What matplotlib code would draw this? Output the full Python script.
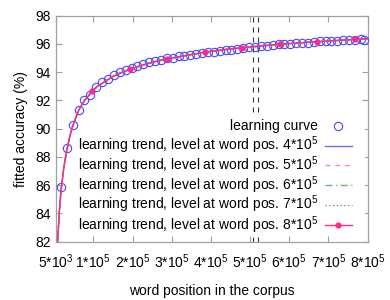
import matplotlib
matplotlib.use("Agg")
import matplotlib.pyplot as plt
from matplotlib.patches import Rectangle
from matplotlib.lines import Line2D

plt.rcParams['font.family'] = ['Liberation Sans', 'DejaVu Sans']
plt.rcParams['mathtext.fontset'] = 'custom'
plt.rcParams['mathtext.rm'] = 'Liberation Sans'
plt.rcParams['mathtext.it'] = 'Liberation Sans'

# ---------------- data ----------------
learning_x = [17500 + 15000 * i for i in range(52)] + [790000]
learning_y = [85.85, 88.65, 90.28, 91.32, 92.03, 92.36, 92.93, 93.28, 93.52, 93.80,
              93.99, 94.13, 94.32, 94.44, 94.58, 94.70, 94.81, 94.84, 94.97, 95.02,
              95.12, 95.13, 95.20, 95.27, 95.36, 95.44, 95.45, 95.50, 95.58, 95.60,
              95.66, 95.72, 95.76, 95.80, 95.85, 95.86, 95.92, 95.97, 95.98, 96.02,
              96.04, 96.07, 96.10, 96.12, 96.18, 96.19, 96.21, 96.24, 96.26, 96.27,
              96.30, 96.32, 96.30]

trend_x = [5000, 9000, 13000, 17500, 25000, 32500, 40000, 47500, 62500, 77500,
           97000, 110000, 125000, 150000, 170000, 193000, 220000, 250000, 289000,
           320000, 350000, 385000, 450000, 480000, 575000, 671000, 767000, 800000]
trend_y = [79.0, 82.0, 84.0, 85.6, 87.3, 88.5, 89.45, 90.2, 91.3, 92.0,
           92.65, 93.0, 93.25, 93.7, 93.95, 94.2, 94.45, 94.7, 94.95,
           95.1, 95.25, 95.42, 95.65, 95.73, 95.98, 96.16, 96.32, 96.37]
trend_marker_x = [97000, 193000, 289000, 385000, 480000, 575000, 671000, 767000]

trend_levels = ['4', '5', '6', '7', '8']
vline_x = [506500, 520800]

x_ticks = [5000, 100000, 200000, 300000, 400000, 500000, 600000, 700000, 800000]
x_ticklabels = ['5*10$^{3}$', '1*10$^{5}$', '2*10$^{5}$', '3*10$^{5}$', '4*10$^{5}$',
                '5*10$^{5}$', '6*10$^{5}$', '7*10$^{5}$', '8*10$^{5}$']
y_ticks = [82, 84, 86, 88, 90, 92, 94, 96, 98]

# ---------------- styles ----------------
trend_styles = [
    dict(color='#6a6af0', ls='-', lw=1.0),
    dict(color='#ff8a8a', ls=(0, (3.5, 3.5)), lw=1.0),
    dict(color='#66bb66', ls=(0, (5, 2.5, 1, 2.5)), lw=1.0),
    dict(color='#707070', ls=(0, (1, 2)), lw=0.9),
    dict(color='#ff2a8a', ls='-', lw=1.0),
]

fig = plt.figure(figsize=(3.9, 3.0), dpi=100)
ax = fig.add_axes([0.1438, 0.1943, 0.7990, 0.7534])

gray = '#a0a0a0'
fs = 10

for vx in vline_x:
    ax.axvline(vx, color='#333333', lw=0.8, ls=(0, (4.5, 4.5)), zorder=1)

ax.plot(learning_x, learning_y, ls='none', marker='o', ms=6.0, mfc='none',
        mec='#4848ff', mew=0.8, zorder=3)

marker_idx = [trend_x.index(v) for v in trend_marker_x]
for i, st in enumerate(trend_styles):
    if i == len(trend_styles) - 1:
        ax.plot(trend_x, trend_y, marker='o', ms=3.5, markevery=marker_idx,
                mfc=st['color'], mec=st['color'], zorder=4 + i, **st)
    else:
        ax.plot(trend_x, trend_y, zorder=4 + i, **st)

ax.set_xlim(5000, 800000)
ax.set_ylim(82, 98)
ax.set_xticks(x_ticks)
ax.set_xticklabels(x_ticklabels)
ax.set_yticks(y_ticks)
ax.tick_params(direction='in', length=4.5, width=0.8, color=gray,
               top=True, right=True, labelsize=fs, pad=4)
ax.tick_params(axis='x', pad=8)
for s in ax.spines.values():
    s.set_color(gray)
    s.set_linewidth(0.9)

ax.set_xlabel('word position in the corpus', fontsize=fs, labelpad=9)
ax.set_ylabel('fitted accuracy (%)', fontsize=fs, labelpad=5)

# ---------------- legend (gnuplot style, text right-aligned) ----------------
ax.add_patch(Rectangle((0.067, 0.025), 0.925, 0.535, transform=ax.transAxes,
                       facecolor='white', edgecolor='none', zorder=2.5))
labels = ['learning curve'] + [
    'learning trend, level at word pos. %s*10$^{5}$' % lv for lv in trend_levels]
rows = [0.512, 0.425, 0.339, 0.252, 0.164, 0.075]
tx = 0.8396
lx0, lx1 = 0.863, 0.949
for j, (lab, ry) in enumerate(zip(labels, rows)):
    ax.text(tx, ry, lab, ha='right', va='center', fontsize=fs,
            transform=ax.transAxes, zorder=10)
    if j == 0:
        ax.add_line(Line2D([(lx0 + lx1) / 2], [ry], ls='none', marker='o', ms=6.0,
                           mfc='none', mec='#4848ff', mew=0.8,
                           transform=ax.transAxes, zorder=10))
    else:
        st = trend_styles[j - 1]
        kw = dict(st)
        if j == 5:
            ln = Line2D([lx0, (lx0 + lx1) / 2, lx1], [ry, ry, ry], marker='o', ms=3.5,
                        markevery=[1], mfc=st['color'], mec=st['color'],
                        transform=ax.transAxes, zorder=10, **kw)
        else:
            ln = Line2D([lx0, lx1], [ry, ry], transform=ax.transAxes, zorder=10, **kw)
        ax.add_line(ln)

fig.savefig('out.png', dpi=100)
